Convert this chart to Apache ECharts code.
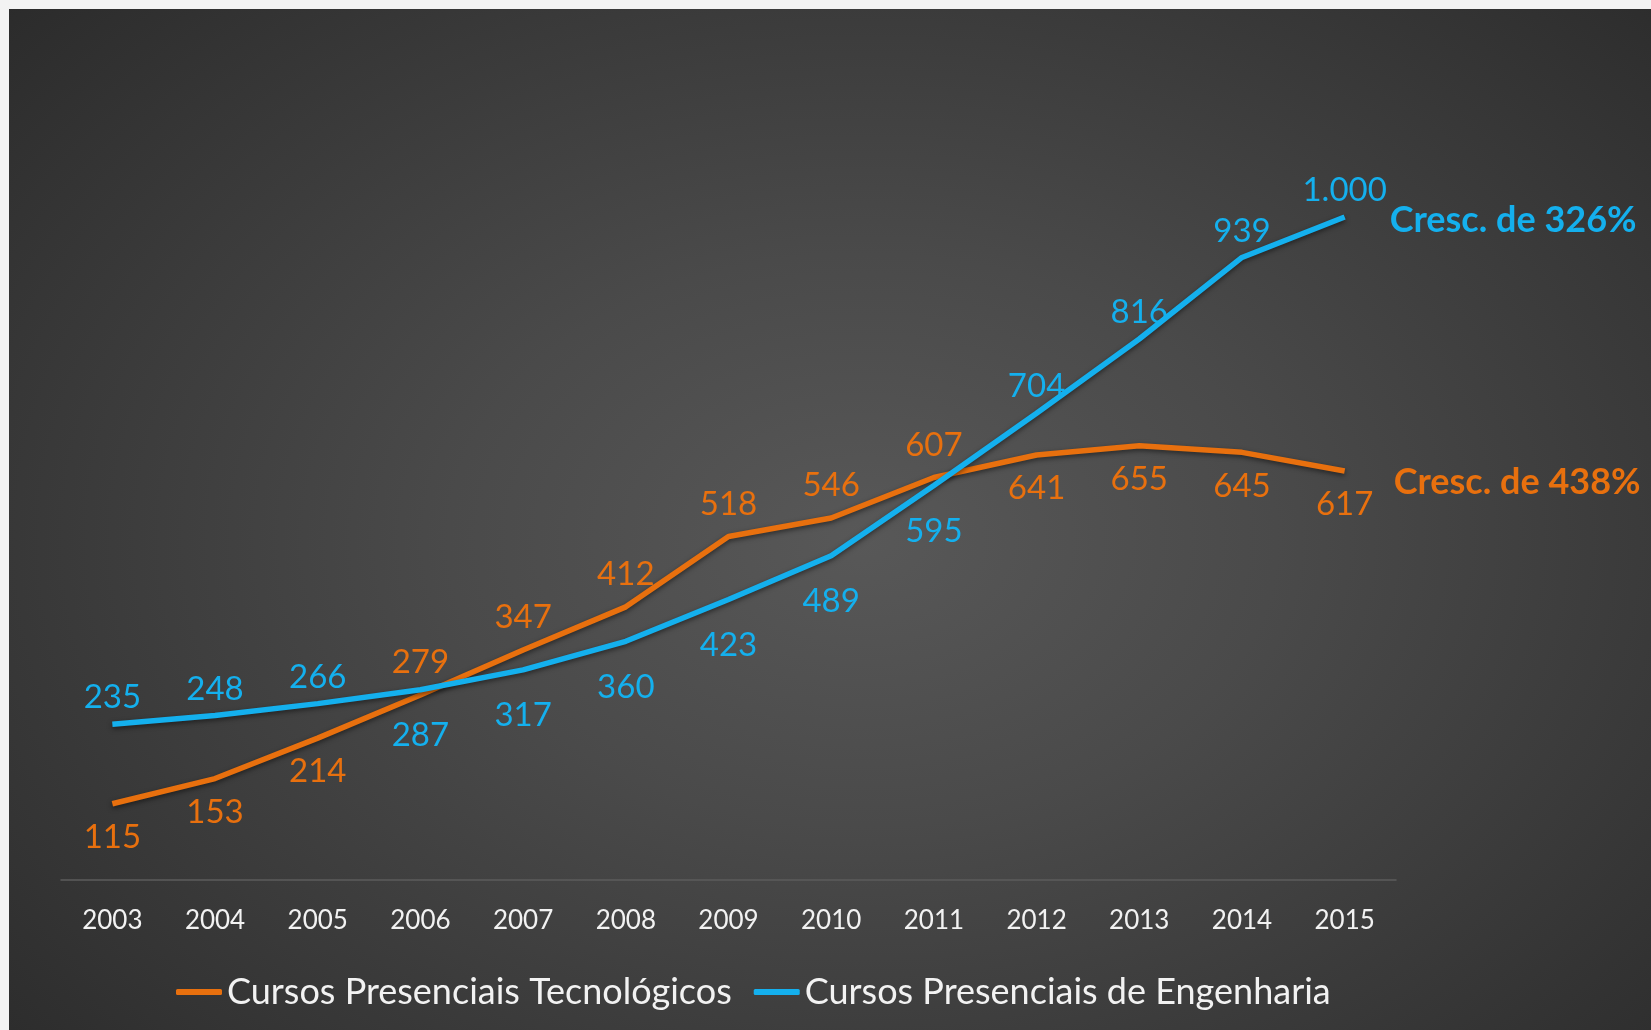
<!DOCTYPE html>
<html>
<head>
<meta charset="utf-8">
<script src="https://cdn.jsdelivr.net/npm/echarts@6/dist/echarts.min.js"></script>
<style>
  html, body { margin: 0; padding: 0; background: #f3f3f3; }
  #chart {
    position: absolute; left: 9px; top: 9px;
    width: 1642px; height: 1021px;
    background: radial-gradient(ellipse 72% 80% at 52% 52%, #585858 0%, #4a4a4a 35%, #2a2a2a 100%);
  }
</style>
</head>
<body>
<div id="chart"></div>
<script>
// anos
var years = ['2003', '2004', '2005', '2006', '2007', '2008', '2009', '2010', '2011', '2012', '2013', '2014', '2015'];
// cursos presenciais tecnologicos
var tecnologicos = [115, 153, 214, 279, 347, 412, 518, 546, 607, 641, 655, 645, 617];
// cursos presenciais de engenharia
var engenharia = [235, 248, 266, 287, 317, 360, 423, 489, 595, 704, 816, 939, 1000];
// onde fica o rotulo de cada ponto
var posTec = ['bottom', 'bottom', 'bottom', 'top', 'top', 'top', 'top', 'top', 'top', 'bottom', 'bottom', 'bottom', 'bottom'];
var posEng = ['top', 'top', 'top', 'bottom', 'bottom', 'bottom', 'bottom', 'bottom', 'bottom', 'top', 'top', 'top', 'top'];

var orange = '#E8700E';
var blue = '#14B0EE';

function fmt(v) {
  return String(v).replace(/\B(?=(\d{3})+(?!\d))/g, '.');
}

function pontos(values, pos, above, below) {
  return values.map(function (v, i) {
    return {
      value: v,
      label: { position: pos[i], distance: pos[i] === 'top' ? above : below }
    };
  });
}

var myChart = echarts.init(document.getElementById('chart'));

var option = {
  animation: false,
  grid: { left: 52, right: 255, top: 208, bottom: 150 },
  legend: {
    left: 167,
    top: 965,
    padding: 0,
    itemGap: 22,
    itemWidth: 46,
    itemHeight: 6,
    icon: 'roundRect',
    textStyle: { color: '#f2f2f2', fontSize: 36, fontFamily: 'Lato' },
    data: ['Cursos Presenciais Tecnológicos', 'Cursos Presenciais de Engenharia']
  },
  xAxis: {
    type: 'category',
    data: years,
    boundaryGap: true,
    axisLine: { lineStyle: { color: '#5c5c5c', width: 1.5 } },
    axisTick: { show: false },
    axisLabel: { color: '#f2f2f2', fontSize: 26, fontFamily: 'Lato', margin: 28 }
  },
  yAxis: {
    type: 'value',
    min: 0,
    max: 1000,
    show: false,
    splitLine: { show: false }
  },
  series: [
    {
      name: 'Cursos Presenciais Tecnológicos',
      type: 'line',
      data: pontos(tecnologicos, posTec, 16, 17),
      showSymbol: true,
      symbol: 'circle',
      symbolSize: 0.1,
      color: orange,
      lineStyle: { width: 5.5, color: orange, shadowBlur: 5, shadowColor: 'rgba(0,0,0,0.5)', shadowOffsetY: 2 },
      label: {
        show: true,
        color: orange,
        fontSize: 33,
        fontFamily: 'Lato',
        formatter: function (p) { return fmt(p.value); }
      },
      endLabel: {
        show: true,
        formatter: 'Cresc. de 438%',
        color: orange,
        fontSize: 36,
        fontWeight: 'bold',
        fontFamily: 'Lato',
        distance: 49,
        offset: [0, 11]
      }
    },
    {
      name: 'Cursos Presenciais de Engenharia',
      type: 'line',
      data: pontos(engenharia, posEng, 10, 29),
      showSymbol: true,
      symbol: 'circle',
      symbolSize: 0.1,
      color: blue,
      lineStyle: { width: 5.5, color: blue, shadowBlur: 5, shadowColor: 'rgba(0,0,0,0.5)', shadowOffsetY: 2 },
      label: {
        show: true,
        color: blue,
        fontSize: 33,
        fontFamily: 'Lato',
        formatter: function (p) { return fmt(p.value); }
      },
      endLabel: {
        show: true,
        formatter: 'Cresc. de 326%',
        color: blue,
        fontSize: 36,
        fontWeight: 'bold',
        fontFamily: 'Lato',
        distance: 45,
        offset: [0, 3]
      }
    }
  ]
};

myChart.setOption(option);
</script>
</body>
</html>
